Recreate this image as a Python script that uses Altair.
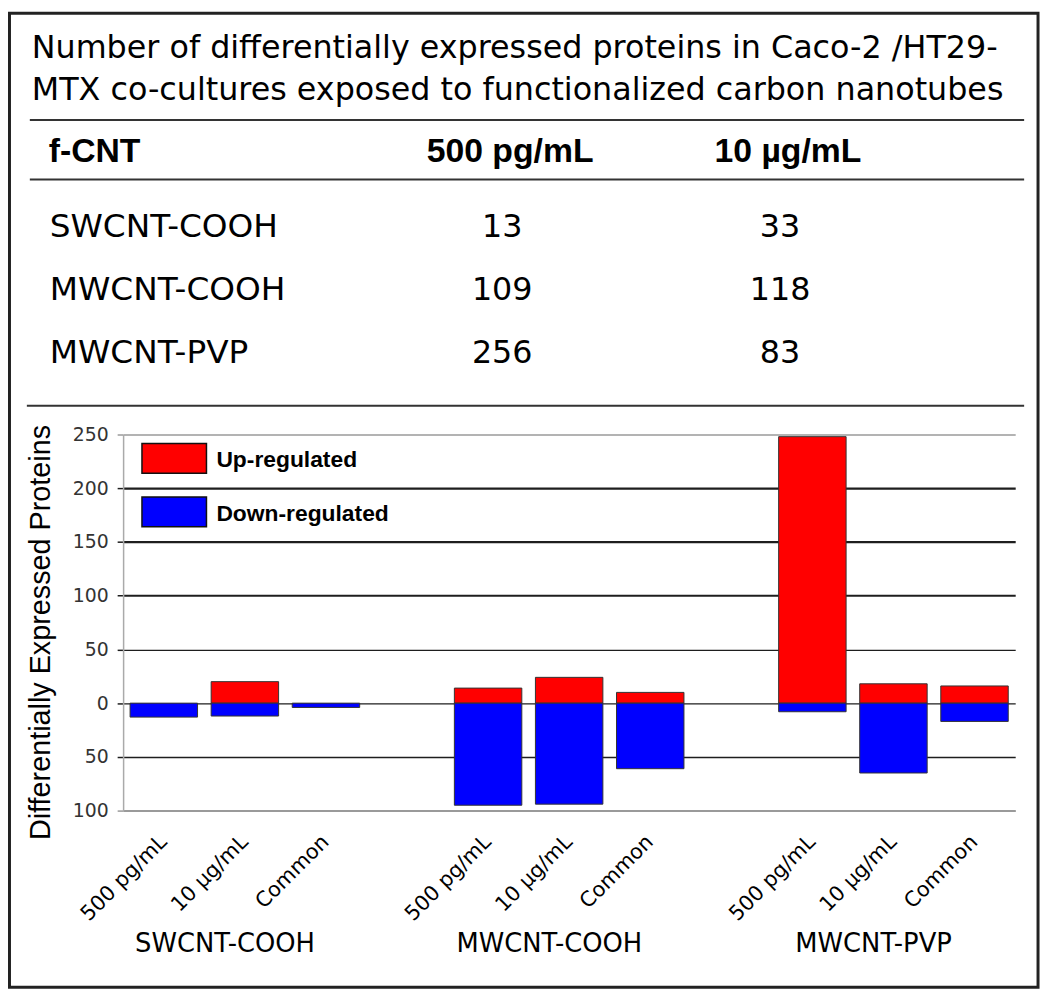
import altair as alt
import pandas as pd

# ---------------- data ----------------
title_lines = [
    "Number of differentially expressed proteins in Caco-2 /HT29-",
    "MTX co-cultures exposed to functionalized carbon nanotubes",
]
header_first = "f-CNT"
conc_columns = ["500 pg/mL", "10 µg/mL"]
table_rows = ["SWCNT-COOH", "MWCNT-COOH", "MWCNT-PVP"]
table_500 = [13, 109, 256]
table_10 = [33, 118, 83]

groups = ["SWCNT-COOH", "MWCNT-COOH", "MWCNT-PVP"]
conditions = ["500 pg/mL", "10 µg/mL", "Common"]
up_values = [0, 20, 0, 14, 24, 10, 248, 18, 16]
down_values = [13, 12, 4, 95, 94, 61, 8, 65, 17]
legend_labels = ["Up-regulated", "Down-regulated"]
legend_colors = ["#ff0000", "#0000ff"]
y_ticks = [-100, -50, 0, 50, 100, 150, 200, 250]
y_title = "Differentially  Expressed  Proteins"

SANS = "DejaVu Sans"
ARIAL = "Liberation Sans"

# ---------------- tables built from the arrays ----------------
cat_domain = []
for gi, g in enumerate(groups):
    if gi > 0:
        cat_domain.append(f"gap{gi}")
    for c in conditions:
        cat_domain.append(f"{g}|{c}")

bar_rows = []
k = 0
for g in groups:
    for c in conditions:
        if up_values[k] != 0:
            bar_rows.append({"cat": f"{g}|{c}", "type": legend_labels[0], "value": up_values[k]})
        if down_values[k] != 0:
            bar_rows.append({"cat": f"{g}|{c}", "type": legend_labels[1], "value": -down_values[k]})
        k += 1
bars_df = pd.DataFrame(bar_rows)

cells_df = pd.DataFrame(
    [{"row": r, "col": conc_columns[0], "value": v} for r, v in zip(table_rows, table_500)]
    + [{"row": r, "col": conc_columns[1], "value": v} for r, v in zip(table_rows, table_10)]
)
rows_df = pd.DataFrame({"row": table_rows})
cols_df = pd.DataFrame({"col": conc_columns})
leg_df = pd.DataFrame({"label": legend_labels})
grp_df = pd.DataFrame({"group": groups, "mid": [f"{g}|{conditions[1]}" for g in groups]})
one = pd.DataFrame({"k": [0]})

# ---------------- scales ----------------
def xband():
    return alt.Scale(type="band", domain=cat_domain, paddingInner=0.168, paddingOuter=0.086)

col_scale = alt.Scale(type="point", domain=conc_columns, range=[382, 662], padding=0)
row_scale = alt.Scale(type="point", domain=table_rows, range=[-199, -72], padding=0)
leg_scale = alt.Scale(type="band", domain=legend_labels, range=[9, 93], paddingInner=0.444, paddingOuter=0)
color_scale = alt.Scale(domain=legend_labels, range=legend_colors)

# ---------------- layers ----------------
frame = alt.Chart(one).mark_rect(fillOpacity=0, stroke="#222222", strokeWidth=3).encode(
    x=alt.value(-114.5), x2=alt.value(922), y=alt.value(-424.5), y2=alt.value(557)
)

def hrule(y, x1, x2):
    return alt.Chart(one).mark_rule(color="#333333", strokeWidth=2).encode(
        x=alt.value(x1), x2=alt.value(x2), y=alt.value(y)
    )

rule1 = hrule(-317, -94, 908)
rule2 = hrule(-257, -94, 908)
rule3 = hrule(-29, -97, 908)

title = alt.Chart(one).mark_text(
    align="left", baseline="alphabetic", font=SANS, fontSize=32, lineHeight=42, color="black"
).encode(x=alt.value(-92), y=alt.value(-379), text=alt.value(title_lines))

head_first = alt.Chart(one).mark_text(
    align="left", baseline="alphabetic", font=ARIAL, fontSize=34, fontWeight="bold", color="black"
).encode(x=alt.value(-75), y=alt.value(-275), text=alt.value(header_first))

head_cols = alt.Chart(cols_df).mark_text(
    align="center", baseline="alphabetic", font=ARIAL, fontSize=34, fontWeight="bold", color="black", dx=8
).encode(x=alt.X("col:N", scale=col_scale, axis=None), y=alt.value(-275), text="col:N")

cells = alt.Chart(cells_df).mark_text(
    align="center", baseline="alphabetic", font=SANS, fontSize=32, color="black"
).encode(
    x=alt.X("col:N", scale=col_scale, axis=None),
    y=alt.Y("row:N", scale=row_scale, axis=None),
    text="value:Q",
)

row_labels = alt.Chart(rows_df).mark_text(
    align="left", baseline="alphabetic", font=SANS, fontSize=33, color="black"
).encode(x=alt.value(-74), y=alt.Y("row:N", scale=row_scale, axis=None), text="row:N")

grid_color = {"condition": {"test": "datum.value == 250 || datum.value == -100", "value": "#9a9a9a"},
              "value": "#1e1e1e"}
grid_width = {"condition": {"test": "datum.value >= 100 && datum.value <= 200", "value": 2.2},
              "value": 1.4}

bars = alt.Chart(bars_df).mark_bar(stroke="#333333", strokeWidth=1).encode(
    x=alt.X(
        "cat:N",
        scale=xband(),
        axis=alt.Axis(
            labelExpr="indexof(datum.label, '|') >= 0 ? split(datum.label, '|')[1] : ''",
            labelAngle=315,
            labelAlign="right",
            labelBaseline="middle",
            labelFont=SANS,
            labelFontSize=21,
            labelColor="black",
            labelPadding=28,
            labelOverlap=False,
            ticks=False,
            domainColor="#9a9a9a",
            domainWidth=2,
            title=None,
        ),
    ),
    y=alt.Y(
        "value:Q",
        stack=None,
        scale=alt.Scale(domain=[-100, 250], nice=False),
        axis=alt.Axis(
            values=y_ticks,
            labelExpr="format(abs(datum.value), 'd')",
            labelFont=SANS,
            labelFontSize=19,
            labelColor="#333333",
            labelPadding=9,
            tickSize=6,
            tickColor=grid_color,
            tickWidth=1.5,
            grid=True,
            gridColor=grid_color,
            gridWidth=grid_width,
            gridOpacity=1,
            domainColor="#aaaaaa",
            domainWidth=1.5,
            title=y_title,
            titleFont=ARIAL,
            titleFontSize=29,
            titleFontWeight="normal",
            titleColor="black",
            titleAngle=270,
            titleAlign="center",
            titleBaseline="middle",
            titleX=-83,
            titleY=199,
        ),
    ),
    color=alt.Color("type:N", scale=color_scale, legend=None),
)

leg_boxes = alt.Chart(leg_df).mark_rect(stroke="#111111", strokeWidth=1.5).encode(
    x=alt.value(19), x2=alt.value(84),
    y=alt.Y("label:N", scale=leg_scale, axis=None),
    color=alt.Color("label:N", scale=color_scale, legend=None),
)

leg_text = alt.Chart(leg_df).mark_text(
    align="left", baseline="alphabetic", font=ARIAL, fontSize=23, fontWeight="bold", color="black", dy=9
).encode(x=alt.value(94), y=alt.Y("label:N", scale=leg_scale, axis=None), text="label:N")

grp_labels = alt.Chart(grp_df).mark_text(
    align="center", baseline="alphabetic", font=SANS, fontSize=26, color="black", dx=-20
).encode(x=alt.X("mid:N", scale=xband(), axis=None), y=alt.value(521), text="group:N")

chart = (
    alt.layer(frame, rule1, rule2, rule3, title, head_first, head_cols, cells, row_labels,
              bars, leg_boxes, leg_text, grp_labels)
    .resolve_scale(x="independent", y="independent")
    .properties(
        width=899,
        height=379,
        autosize=alt.AutoSizeParams(type="none"),
        padding={"left": 116, "top": 426, "right": 27, "bottom": 180},
        background="white",
    )
    .configure_view(strokeWidth=0)
)

chart.save("out.html", embed_options={"renderer": "svg", "actions": False})
